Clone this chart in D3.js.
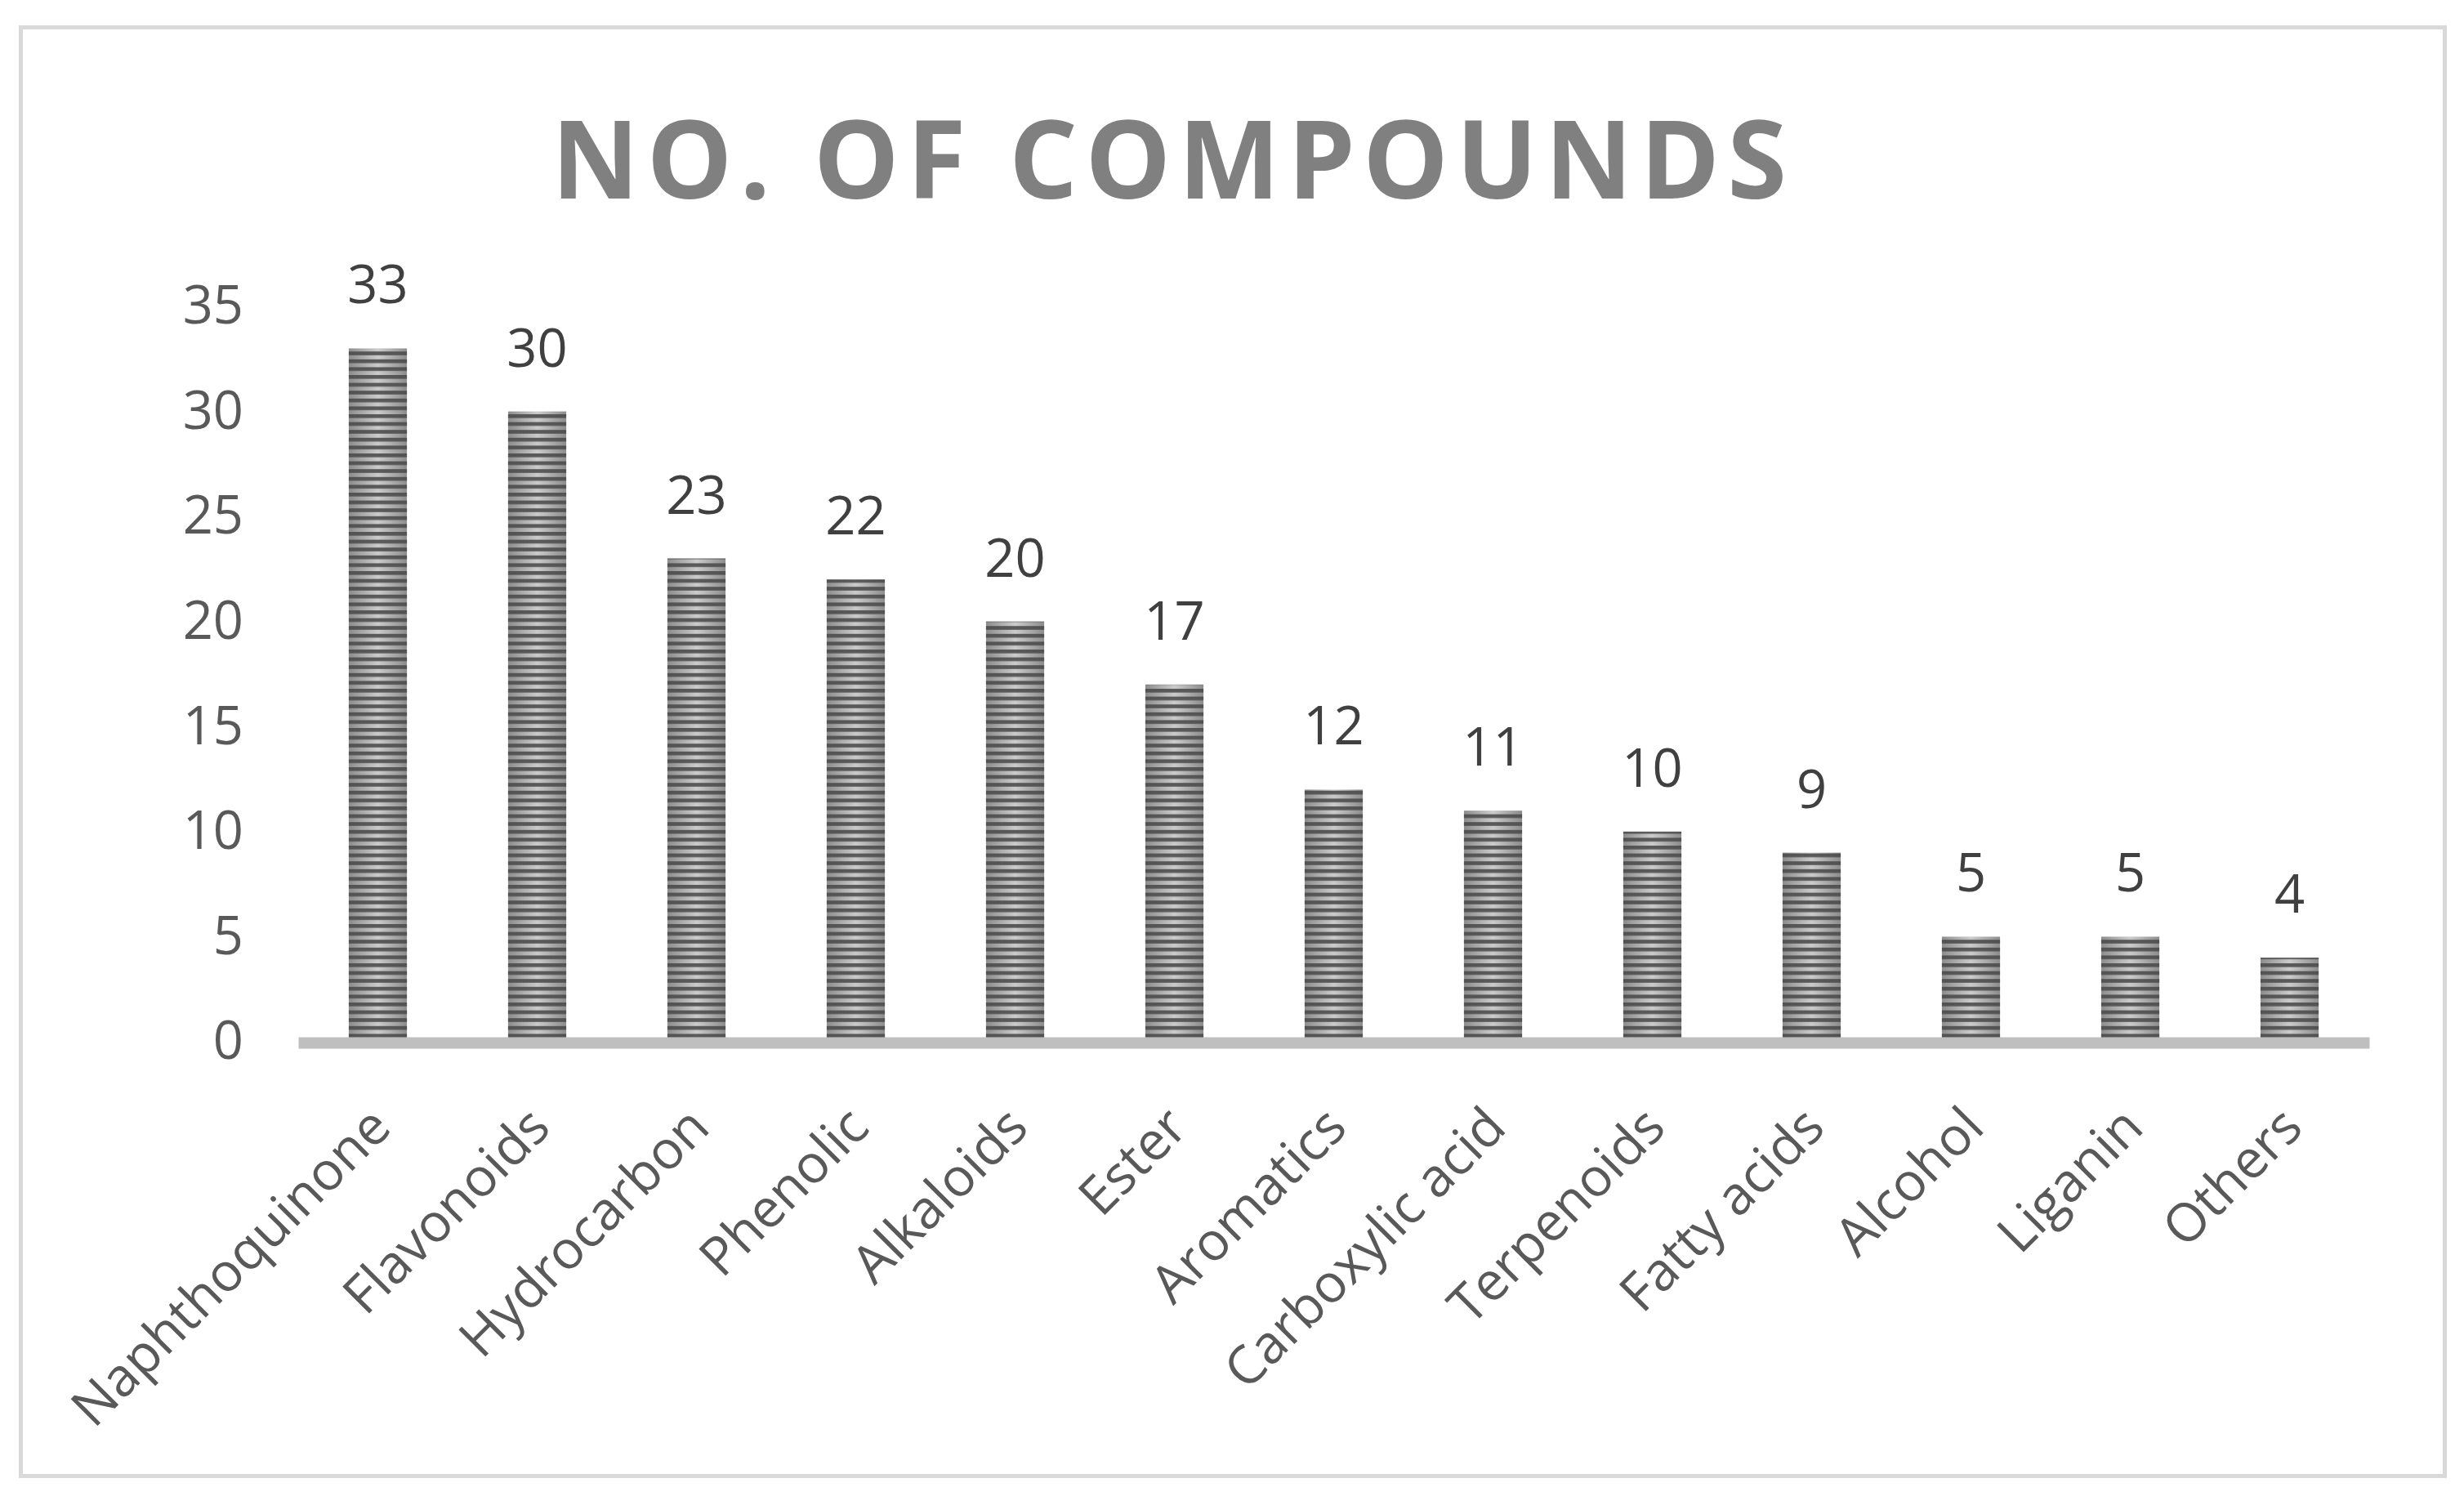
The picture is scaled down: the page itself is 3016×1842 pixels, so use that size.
<!DOCTYPE html>
<html>
<head>
<meta charset="utf-8">
<script src="https://cdn.jsdelivr.net/npm/d3@7"></script>
<style>
    body { margin: 0; background: #fff; }
    text { font-family: "Open Sans", sans-serif; }
</style>
</head>
<body>
<div class="container"></div>
<script>
var categories = ['Naphthoquinone', 'Flavonoids', 'Hydrocarbon', 'Phenolic', 'Alkaloids', 'Ester',
    'Aromatics', 'Carboxylic acid', 'Terpenoids', 'Fatty acids', 'Alcohol', 'Liganin', 'Others'];
var compoundCounts = [33, 30, 23, 22, 20, 17, 12, 11, 10, 9, 5, 5, 4];
var yTicks = [0, 5, 10, 15, 20, 25, 30, 35];
var chartTitle = 'NO. OF COMPOUNDS';

const WIDTH = 3016;
const HEIGHT = 1842;
const PLOT_LEFT = 365;
const PLOT_RIGHT = 2900;
const PLOT_TOP = 375;
const BASELINE = 1275;
const FONT_SIZE = 65;

var xScale, yScale;

var addDefs = function (svg) {
    var defs = svg.append('defs');

    var shade = defs.append('linearGradient')
        .attr('id', 'barShade')
        .attr('x1', 0).attr('x2', 1).attr('y1', 0).attr('y2', 0);
    shade.append('stop').attr('offset', '0%').attr('stop-color', '#8c8c8c');
    shade.append('stop').attr('offset', '50%').attr('stop-color', '#cbcbcb');
    shade.append('stop').attr('offset', '100%').attr('stop-color', '#8c8c8c');

    // narrow horizontal stripes laid over the shaded bar
    var stripes = defs.append('pattern')
        .attr('id', 'barStripes')
        .attr('patternUnits', 'userSpaceOnUse')
        .attr('width', 20)
        .attr('height', 9.6)
        .attr('y', BASELINE);
    stripes.append('rect')
        .attr('width', 20)
        .attr('height', 4.6)
        .attr('fill', 'rgba(72,72,72,0.86)');
};

var addBars = function (svg) {
    var bars = svg.append('g').classed('bars', true)
        .selectAll('g')
        .data(compoundCounts)
        .enter()
        .append('g');

    bars.append('rect')
        .attr('x', function (d, i) { return xScale(categories[i]); })
        .attr('y', function (d) { return yScale(d); })
        .attr('width', xScale.bandwidth())
        .attr('height', function (d) { return BASELINE - yScale(d); })
        .attr('fill', 'url(#barShade)');

    bars.append('rect')
        .attr('x', function (d, i) { return xScale(categories[i]); })
        .attr('y', function (d) { return yScale(d); })
        .attr('width', xScale.bandwidth())
        .attr('height', function (d) { return BASELINE - yScale(d); })
        .attr('fill', 'url(#barStripes)');

    bars.append('text')
        .attr('x', function (d, i) { return xScale(categories[i]) + xScale.bandwidth() / 2; })
        .attr('y', function (d) { return yScale(d) - 55; })
        .attr('text-anchor', 'middle')
        .attr('font-size', FONT_SIZE)
        .attr('fill', '#404040')
        .text(function (d) { return d; });
};

var addAxes = function (svg) {
    var yAxis = svg.append('g')
        .attr('transform', 'translate(298,0)')
        .call(d3.axisLeft(yScale).tickValues(yTicks).tickSize(0).tickPadding(0));
    yAxis.select('.domain').remove();
    yAxis.selectAll('text')
        .attr('font-family', '"Open Sans", sans-serif')
        .attr('font-size', FONT_SIZE)
        .attr('fill', '#595959');

    var xAxis = svg.append('g')
        .attr('transform', 'translate(0,' + (BASELINE + 1) + ')')
        .call(d3.axisBottom(xScale).tickSize(0).tickSizeOuter(0));
    xAxis.select('.domain')
        .attr('stroke', '#bfbfbf')
        .attr('stroke-width', 14);
    xAxis.selectAll('text')
        .attr('font-family', '"Open Sans", sans-serif')
        .attr('font-size', FONT_SIZE)
        .attr('fill', '#595959')
        .attr('text-anchor', 'end')
        .attr('x', 19)
        .attr('y', 107)
        .attr('dy', null)
        .attr('transform', 'rotate(-45,19,107)');
};

var visualize = function () {
    var svg = d3.select('.container').append('svg')
        .attr('width', WIDTH)
        .attr('height', HEIGHT);

    svg.append('rect')
        .attr('width', WIDTH).attr('height', HEIGHT)
        .attr('fill', '#fff');

    svg.append('rect')
        .attr('x', 25.5).attr('y', 33.5)
        .attr('width', 2967).attr('height', 1773)
        .attr('fill', 'none')
        .attr('stroke', '#d9d9d9')
        .attr('stroke-width', 5);

    xScale = d3.scaleBand()
        .domain(categories)
        .range([PLOT_LEFT, PLOT_RIGHT])
        .paddingInner(0.635)
        .paddingOuter(0.3175);
    yScale = d3.scaleLinear()
        .domain([0, 35])
        .range([BASELINE, PLOT_TOP]);

    addDefs(svg);

    svg.append('text')
        .attr('x', 1431)
        .attr('y', 243)
        .attr('text-anchor', 'middle')
        .attr('font-size', 132)
        .attr('font-weight', 'bold')
        .attr('fill', '#808080')
        .attr('textLength', 1512)
        .attr('lengthAdjust', 'spacing')
        .text(chartTitle);

    addBars(svg);
    addAxes(svg);
};

window.onload = visualize;
</script>
</body>
</html>
